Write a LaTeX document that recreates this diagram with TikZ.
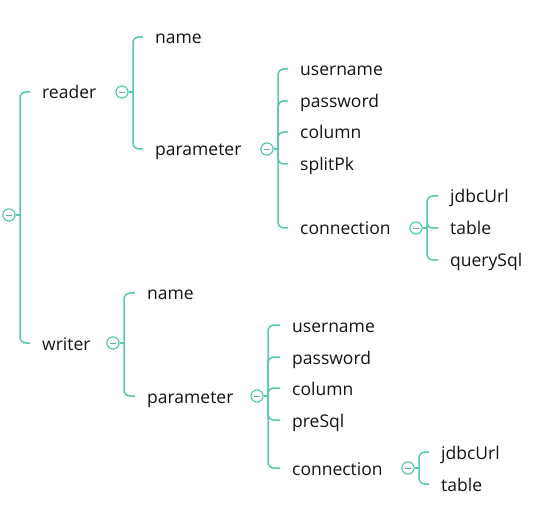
\documentclass[tikz,border=0pt]{standalone}
\usepackage{fontspec}
\setmainfont{Open Sans}
\definecolor{mmteal}{RGB}{86,199,178}
\definecolor{mmtext}{RGB}{20,20,20}
\begin{document}
\begin{tikzpicture}[x=1pt,y=-1pt,
  lbl/.style={anchor=west,inner sep=0pt,text height=16pt,text depth=2pt,
    font=\fontsize{17.5}{20}\selectfont,text=mmtext},
  fold/.style={circle,draw=mmteal,line width=1pt,fill=white,minimum size=12pt,inner sep=0pt,
    path picture={\draw[mmteal!70!gray,line width=0.9pt]
      ([xshift=-3pt]path picture bounding box.center) -- ([xshift=3pt]path picture bounding box.center);}},
  br/.style={draw=mmteal,line width=1.5pt,rounded corners=6pt}]
\useasboundingbox (0,0) rectangle (559,510);
\fill[white] (0,0) rectangle (559,510);

% nodes
\node[fold] (root) at (9,215) {};
\node[lbl] (reader) at (42,92) {reader};
\node[fold] (cr) at (122,92) {};
\node[lbl] (rname) at (155,37) {name};
\node[lbl] (rparam) at (155,149) {parameter};
\node[fold] (crp) at (267,149) {};
\node[lbl] (ruser) at (300,69) {username};
\node[lbl] (rpass) at (300,101) {password};
\node[lbl] (rcol) at (300,132) {column};
\node[lbl] (rsplit) at (300,164) {splitPk};
\node[lbl] (rconn) at (300,228) {connection};
\node[fold] (crc) at (416,228) {};
\node[lbl] (rjdbc) at (450,196) {jdbcUrl};
\node[lbl] (rtable) at (450,228) {table};
\node[lbl] (rquery) at (450,260) {querySql};

\node[lbl] (writer) at (42,343) {writer};
\node[fold] (cw) at (113,343) {};
\node[lbl] (wname) at (147,293) {name};
\node[lbl] (wparam) at (147,396) {parameter};
\node[fold] (cwp) at (257,396) {};
\node[lbl] (wuser) at (292,325) {username};
\node[lbl] (wpass) at (292,357) {password};
\node[lbl] (wcol) at (292,388) {column};
\node[lbl] (wpre) at (292,420) {preSql};
\node[lbl] (wconn) at (292,468) {connection};
\node[fold] (cwc) at (408,468) {};
\node[lbl] (wjdbc) at (441,452) {jdbcUrl};
\node[lbl] (wtable) at (441,484) {table};

% connectors
\foreach \c/\kids in {root/{reader,writer}, cr/{rname,rparam}, crp/{ruser,rpass,rcol,rsplit,rconn},
  crc/{rjdbc,rtable,rquery}, cw/{wname,wparam}, cwp/{wuser,wpass,wcol,wpre,wconn}, cwc/{wjdbc,wtable}}{
  \draw[br,rounded corners=0pt] (\c.east) -- ([xshift=4.5pt]\c.east);
  \foreach \k in \kids {
    \draw[br] ([xshift=4.5pt]\c.east) |- ([xshift=-12pt]\k.west);
  }
}
\foreach \c in {root,cr,crp,crc,cw,cwp,cwc}{
  \node[fold] at (\c) {};
}
\end{tikzpicture}
\end{document}
